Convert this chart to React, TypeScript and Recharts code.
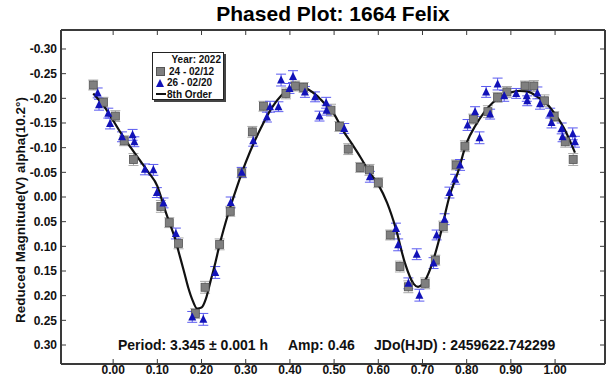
import React from 'react';
import { ComposedChart, Scatter, Line, XAxis, YAxis, ErrorBar } from 'recharts';

const xTicks = [0, 0.1, 0.2, 0.3, 0.4, 0.5, 0.6, 0.7, 0.8, 0.9, 1.0];
const yTicks = [-0.3, -0.25, -0.2, -0.15, -0.1, -0.05, 0, 0.05, 0.1, 0.15, 0.2, 0.25, 0.3];

// session 24 - 02/12 (grey squares)
const phase24 = [-0.045, -0.022, 0.005, 0.025, 0.046, 0.108, 0.127, 0.148, 0.186, 0.208, 0.241, 0.265, 0.291, 0.315, 0.34, 0.391, 0.412, 0.431, 0.493, 0.512, 0.532, 0.559, 0.58, 0.6, 0.627, 0.649, 0.668, 0.706, 0.729, 0.747, 0.776, 0.796, 0.815, 0.848, 0.87, 0.891, 0.932, 0.952, 0.976, 0.998, 1.023, 1.041];
const mag24 = [-0.227, -0.192, -0.164, -0.114, -0.076, 0.019, 0.052, 0.094, 0.236, 0.183, 0.096, 0.029, -0.049, -0.132, -0.184, -0.21, -0.225, -0.222, -0.176, -0.143, -0.097, -0.06, -0.055, -0.029, 0.077, 0.141, 0.182, 0.175, 0.128, 0.06, -0.065, -0.103, -0.158, -0.173, -0.202, -0.213, -0.225, -0.225, -0.195, -0.163, -0.112, -0.076];
const err24 = [0.01, 0.01, 0.011, 0.01, 0.012, 0.012, 0.01, 0.011, 0.01, 0.012, 0.011, 0.01, 0.01, 0.011, 0.01, 0.011, 0.01, 0.01, 0.012, 0.01, 0.011, 0.01, 0.011, 0.01, 0.01, 0.011, 0.012, 0.011, 0.01, 0.011, 0.01, 0.011, 0.01, 0.012, 0.01, 0.011, 0.01, 0.011, 0.012, 0.01, 0.011, 0.012];

// session 26 - 02/20 (blue triangles)
const phase26 = [-0.035, -0.032, -0.011, -0.007, 0.02, 0.044, 0.048, 0.072, 0.091, 0.099, 0.114, 0.142, 0.179, 0.204, 0.231, 0.266, 0.291, 0.317, 0.348, 0.355, 0.374, 0.38, 0.399, 0.407, 0.434, 0.457, 0.467, 0.482, 0.483, 0.523, 0.581, 0.64, 0.645, 0.668, 0.687, 0.693, 0.725, 0.732, 0.75, 0.761, 0.774, 0.785, 0.802, 0.819, 0.829, 0.844, 0.853, 0.87, 0.885, 0.912, 0.936, 0.937, 0.96, 0.966, 0.989, 0.992, 1.015, 1.017, 1.04, 1.045];
const mag26 = [-0.211, -0.187, -0.17, -0.149, -0.122, -0.126, -0.112, -0.056, -0.055, -0.009, 0.012, 0.074, 0.243, 0.248, 0.153, 0.011, -0.05, -0.114, -0.162, -0.183, -0.183, -0.237, -0.22, -0.244, -0.213, -0.203, -0.164, -0.191, -0.176, -0.139, -0.041, 0.064, 0.097, 0.175, 0.116, 0.199, 0.134, 0.077, 0.045, -0.009, -0.036, -0.065, -0.146, -0.173, -0.12, -0.213, -0.168, -0.229, -0.205, -0.21, -0.205, -0.195, -0.211, -0.189, -0.17, -0.151, -0.139, -0.122, -0.128, -0.112];
const err26 = [0.01, 0.011, 0.01, 0.011, 0.01, 0.011, 0.01, 0.011, 0.011, 0.01, 0.01, 0.011, 0.011, 0.012, 0.012, 0.011, 0.01, 0.011, 0.01, 0.011, 0.01, 0.012, 0.01, 0.012, 0.011, 0.01, 0.01, 0.011, 0.01, 0.01, 0.011, 0.011, 0.012, 0.011, 0.011, 0.012, 0.011, 0.01, 0.011, 0.011, 0.01, 0.011, 0.011, 0.01, 0.012, 0.011, 0.01, 0.012, 0.011, 0.01, 0.011, 0.01, 0.012, 0.011, 0.01, 0.011, 0.011, 0.01, 0.012, 0.011];

// 8th order fourier fit
const fitPhase = [-0.045, -0.02, 0.0, 0.02, 0.04, 0.06, 0.08, 0.1, 0.11, 0.12, 0.13, 0.14, 0.15, 0.16, 0.17, 0.18, 0.19, 0.2, 0.21, 0.22, 0.23, 0.24, 0.25, 0.26, 0.28, 0.3, 0.32, 0.34, 0.36, 0.38, 0.4, 0.42, 0.44, 0.46, 0.48, 0.5, 0.52, 0.54, 0.56, 0.58, 0.6, 0.62, 0.64, 0.66, 0.68, 0.69, 0.7, 0.72, 0.74, 0.76, 0.78, 0.8, 0.82, 0.84, 0.86, 0.88, 0.9, 0.92, 0.94, 0.96, 0.98, 1.0, 1.02, 1.045];
const fitMag = [-0.21, -0.183, -0.155, -0.126, -0.1, -0.075, -0.05, -0.022, 0.005, 0.033, 0.058, 0.084, 0.117, 0.15, 0.184, 0.21, 0.226, 0.224, 0.206, 0.172, 0.138, 0.1, 0.066, 0.035, -0.02, -0.07, -0.113, -0.15, -0.182, -0.205, -0.22, -0.226, -0.219, -0.206, -0.188, -0.168, -0.135, -0.108, -0.08, -0.05, -0.025, 0.012, 0.065, 0.133, 0.176, 0.182, 0.177, 0.14, 0.078, 0.002, -0.05, -0.11, -0.145, -0.172, -0.192, -0.205, -0.212, -0.215, -0.213, -0.203, -0.19, -0.168, -0.14, -0.09];

const data24 = phase24.map((p, i) => ({ x: p, y: mag24[i], err: err24[i] }));
const data26 = phase26.map((p, i) => ({ x: p, y: mag26[i], err: err26[i] }));
const fitData = fitPhase.map((p, i) => ({ x: p, y: fitMag[i] }));

const FONT = '"Liberation Sans", Arial, sans-serif';
const FRAME = '#3a3a3a';
const X_DOMAIN = [-0.118, 1.113];
const Y_DOMAIN = [-0.3385, 0.3385];

const GreySquare = (props: any) => {
  const { cx, cy } = props;
  return <rect x={cx - 4} y={cy - 4} width={8} height={8} fill="#7f7f7f" stroke="#555" strokeWidth={0.8} />;
};

const BlueTriangle = (props: any) => {
  const { cx, cy } = props;
  return <polygon points={`${cx},${cy - 4.5} ${cx + 4},${cy + 3.5} ${cx - 4},${cy + 3.5}`} fill="#1212b8" />;
};

const fmt = (v: number) => v.toFixed(2);
const blank = () => '';
const tickFont = { fontSize: 12, fontWeight: 'bold', fill: '#111', fontFamily: FONT };

const App: React.FC = () => {
  return (
    <div style={{ position: 'absolute', left: 0, top: 0, width: 606, height: 379, background: '#fff', fontFamily: FONT }}>
      <div style={{ position: 'absolute', left: 0, width: 666, top: 2, textAlign: 'center', fontSize: 21, fontWeight: 'bold', color: '#000' }}>
        Phased Plot: 1664 Felix
      </div>
      <div
        style={{
          position: 'absolute', left: 20, top: 210, width: 300, textAlign: 'center', fontSize: 13.5, fontWeight: 'bold',
          transform: 'translate(-50%, -50%) rotate(-90deg)', whiteSpace: 'nowrap', color: '#111',
        }}
      >
        Reduced Magnitude(V) alpha(10.2°)
      </div>

      <ComposedChart width={606} height={379} margin={{ top: 29, right: 0, bottom: 0, left: 0 }}>
        {/* negative tickSize puts tick marks inside the frame */}
        <XAxis
          dataKey="x" type="number" domain={X_DOMAIN} allowDataOverflow ticks={xTicks} tickFormatter={fmt}
          height={15} tickSize={-5} tickMargin={6} interval={0}
          axisLine={{ stroke: FRAME, strokeWidth: 2 }} tickLine={{ stroke: FRAME }} tick={tickFont}
        />
        <XAxis
          xAxisId="xt" dataKey="x" type="number" orientation="top" height={1} domain={X_DOMAIN} allowDataOverflow
          ticks={xTicks} interval={0} tickFormatter={blank} tickSize={-5} tickMargin={0}
          axisLine={{ stroke: FRAME, strokeWidth: 2 }} tickLine={{ stroke: FRAME }}
        />
        <YAxis
          dataKey="y" type="number" domain={Y_DOMAIN} reversed allowDataOverflow ticks={yTicks} tickFormatter={fmt}
          width={61} tickSize={-5} tickMargin={9} interval={0}
          axisLine={{ stroke: FRAME, strokeWidth: 2 }} tickLine={{ stroke: FRAME }} tick={tickFont}
        />
        <YAxis
          yAxisId="yr" dataKey="y" type="number" orientation="right" width={1} domain={Y_DOMAIN} reversed allowDataOverflow
          ticks={yTicks} interval={0} tickFormatter={blank} tickSize={-5} tickMargin={0}
          axisLine={{ stroke: FRAME, strokeWidth: 2 }} tickLine={{ stroke: FRAME }}
        />

        <Scatter data={data24} dataKey="y" shape={GreySquare} isAnimationActive={false}>
          <ErrorBar dataKey="err" direction="y" width={5} stroke="#a8a8a8" strokeWidth={1} />
        </Scatter>
        <Scatter data={data26} dataKey="y" shape={BlueTriangle} isAnimationActive={false}>
          <ErrorBar dataKey="err" direction="y" width={5} stroke="#5a5af0" strokeWidth={1} />
        </Scatter>
        <Line
          data={fitData} dataKey="y" xAxisId="xt" yAxisId="yr" type="monotone" stroke="#111" strokeWidth={2.2}
          dot={false} activeDot={false} isAnimationActive={false}
        />
      </ComposedChart>

      <div
        style={{
          position: 'absolute', left: 152, top: 52, width: 72, height: 48, background: '#fff',
          border: '1px solid #222', boxShadow: '2px 2px 0 #444', fontSize: 10, fontWeight: 'bold', color: '#111', lineHeight: '11.5px',
          boxSizing: 'border-box', padding: '1px 2px 0 3px',
        }}
      >
        <div style={{ textAlign: 'right' }}>Year: 2022</div>
        <div style={{ display: 'flex', alignItems: 'center' }}>
          <span style={{ display: 'inline-block', width: 7, height: 7, background: '#7f7f7f', border: '0.5px solid #555', marginRight: 4 }} />
          24 - 02/12
        </div>
        <div style={{ display: 'flex', alignItems: 'center' }}>
          <svg width={8} height={8} style={{ marginRight: 3 }}>
            <polygon points="4,0 8,8 0,8" fill="#1212b8" />
          </svg>
          26 - 02/20
        </div>
        <div style={{ display: 'flex', alignItems: 'center' }}>
          <span style={{ display: 'inline-block', width: 10, height: 2, background: '#111', marginRight: 1 }} />
          8th Order
        </div>
      </div>

      <div style={{ position: 'absolute', top: 337, left: 118, fontSize: 14, fontWeight: 'bold', color: '#111', whiteSpace: 'nowrap' }}>
        Period: 3.345 ± 0.001 h
      </div>
      <div style={{ position: 'absolute', top: 337, left: 288, fontSize: 14, fontWeight: 'bold', color: '#111', whiteSpace: 'nowrap' }}>
        Amp: 0.46
      </div>
      <div style={{ position: 'absolute', top: 337, left: 374, fontSize: 14, fontWeight: 'bold', color: '#111', whiteSpace: 'nowrap' }}>
        JDo(HJD) : 2459622.742299
      </div>
    </div>
  );
};

export default App;
